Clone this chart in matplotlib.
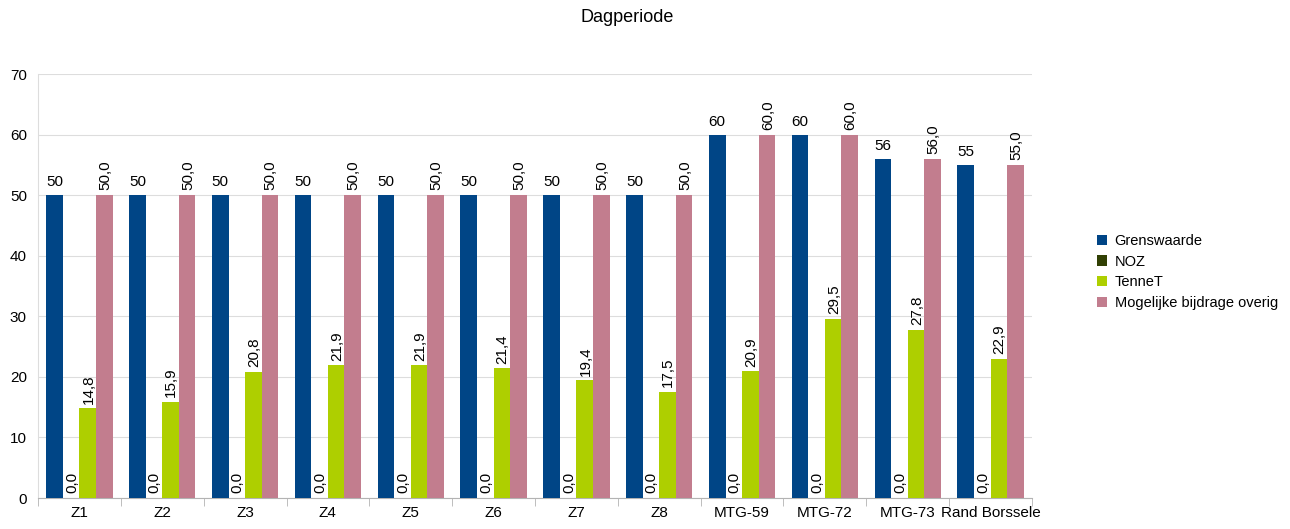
import matplotlib
matplotlib.use("Agg")
import matplotlib.pyplot as plt
import numpy as np

categories = ["Z1", "Z2", "Z3", "Z4", "Z5", "Z6", "Z7", "Z8", "MTG-59", "MTG-72", "MTG-73", "Rand Borssele"]
grenswaarde = [50, 50, 50, 50, 50, 50, 50, 50, 60, 60, 56, 55]
noz = [0, 0, 0, 0, 0, 0, 0, 0, 0, 0, 0, 0]
tennet = [14.8, 15.9, 20.8, 21.9, 21.9, 21.4, 19.4, 17.5, 20.9, 29.5, 27.8, 22.9]
overig = [50.0, 50.0, 50.0, 50.0, 50.0, 50.0, 50.0, 50.0, 60.0, 60.0, 56.0, 55.0]
series_names = ["Grenswaarde", "NOZ", "TenneT", "Mogelijke bijdrage overig"]
colors = ["#004586", "#314004", "#aecf00", "#c27d8e"]

plt.rcParams['font.family'] = ['Liberation Sans', 'DejaVu Sans']

fig = plt.figure(figsize=(12.9, 5.29), dpi=100)
ax = fig.add_axes([38/1290, 1-498/529, (1032-38)/1290, (498-74)/529])

x = np.arange(len(categories))
w = 0.2
series = [grenswaarde, noz, tennet, overig]
for i, (vals, name, c) in enumerate(zip(series, series_names, colors)):
    pos = x + (i - 1.5) * w
    ax.bar(pos, vals, width=w, color=c, label=name, zorder=3)
    for p, v in zip(pos, vals):
        if i == 0:
            ax.text(p, v + 1.0, f"{v:d}", ha="center", va="bottom", fontsize=11)
        else:
            ax.text(p + 0.01, v + 0.8, f"{v:.1f}".replace(".", ","), ha="center", va="bottom",
                    rotation=90, fontsize=11)

ax.set_xlim(-0.5, len(categories) - 0.5)
ax.set_ylim(0, 70)
ax.set_yticks(range(0, 71, 10))
ax.set_xticks(x)
ax.set_xticklabels(categories, fontsize=11)
ax.set_xticks(np.arange(-0.5, len(categories), 1), minor=True)
ax.tick_params(axis="x", which="major", length=0, pad=6)
ax.tick_params(axis="x", which="minor", length=6, color="#b3b3b3")
ax.tick_params(axis="y", length=0, labelsize=11, pad=8)
ax.grid(axis="y", color="#dddddd", linewidth=0.8, zorder=0)
for s in ["top", "right"]:
    ax.spines[s].set_visible(False)
ax.spines["left"].set_color("#dddddd")
ax.spines["bottom"].set_color("#b3b3b3")

fig.text(627/1290, 1-17/529, "Dagperiode", ha="center", va="center", fontsize=13)

leg = fig.legend(loc="upper left", bbox_to_anchor=(1084/1290, 1-221/529), frameon=False,
                 fontsize=10.5, handlelength=0.7, handleheight=0.7, handletextpad=0.5,
                 labelspacing=0.45)

fig.savefig("out.png", dpi=100)
